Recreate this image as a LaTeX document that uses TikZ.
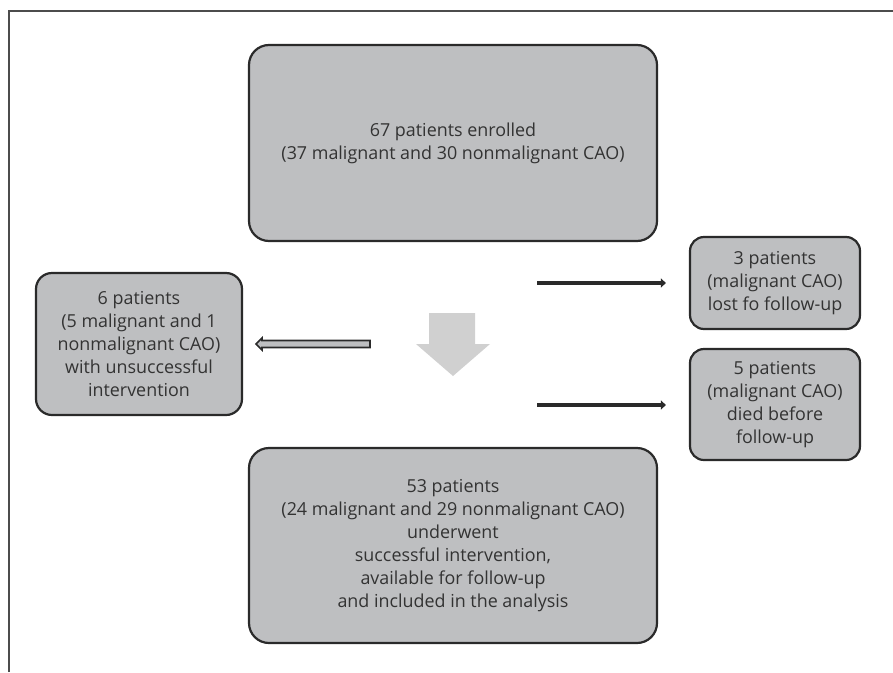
\documentclass[tikz,border=0pt]{standalone}
\usepackage{fontspec}
\setmainfont{Open Sans}
\usetikzlibrary{arrows.meta,calc}
\begin{document}
\begin{tikzpicture}[x=1pt,y=-1pt,
  box/.style={draw=boxline, line width=2.2pt, fill=boxfill, rounded corners=#1, inner sep=0pt, align=center, text=txt, font=\fontsize{17.9}{23}\selectfont},
  box/.default=20pt,
  thinarrow/.style={draw=boxline, line width=3.5pt, -{Triangle[length=5pt,width=9pt]}},
]
\definecolor{boxfill}{HTML}{BEBFC1}
\definecolor{boxline}{HTML}{2A2A2A}
\definecolor{txt}{HTML}{333333}
\definecolor{downfill}{HTML}{D0D0D0}
\useasboundingbox (0,0) rectangle (893,672);
\draw[line width=1.5pt, draw=black!70] (9,672) -- (9,11) -- (893,11);

\node[box, minimum width=408pt, minimum height=196pt] (top) at (453,143) {67 patients enrolled\\(37 malignant and 30 nonmalignant CAO)};
\node[box=16pt, minimum width=206pt, minimum height=142pt] (left) at (139,344) {6 patients\\(5 malignant and 1\\nonmalignant CAO)\\with unsuccessful\\intervention};
\node[box=14pt, minimum width=170pt, minimum height=92pt] (r1) at (775,283) {3 patients\\(malignant CAO)\\lost fo follow-up};
\node[box=14pt, minimum width=170pt, minimum height=111pt] (r2) at (775,404.5) {5 patients\\(malignant CAO)\\died before\\follow-up};
\node[box, minimum width=408pt, minimum height=195pt] (bot) at (453,545.5) {53 patients\\(24 malignant and 29 nonmalignant CAO)\\underwent\\successful intervention,\\available for follow-up\\and included in the analysis};

\coordinate (a1) at (537,283);
\coordinate (a2) at (537,405);
\draw[thinarrow, shorten >=23pt] (a1) -- (r1.west);
\draw[thinarrow, shorten >=23pt] (a2) -- (r2.west |- a2);

% hollow arrow to left box
\coordinate (h0) at (370,344);
\draw[draw=boxline, fill=boxfill, line width=1.6pt, line join=miter]
  (h0) ++(0,-3.5) -- (262,340.5) -- (262,338) -- ($(left.east)+(13,0)$) -- (262,350) -- (262,347.5) -- (370,347.5) -- cycle;

% down block arrow
\fill[downfill] (429,313) -- (475,313) -- (475,344) -- (490,344) -- (453,376) -- (416,344) -- (429,344) -- cycle;
\end{tikzpicture}
\end{document}
